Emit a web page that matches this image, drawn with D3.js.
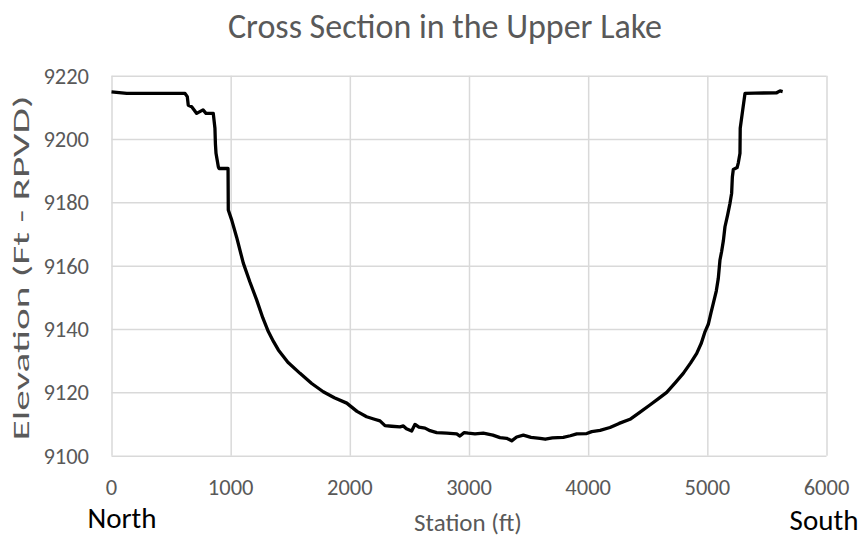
<!DOCTYPE html>
<html>
<head>
<meta charset="utf-8">
<script src="https://cdn.jsdelivr.net/npm/d3@7"></script>
<style>
body { margin: 0; background: #fff; }
svg text { font-family: Carlito, Calibri, Lato, sans-serif; }
.grid line { stroke: #d9d9d9; stroke-width: 1.5; }
.grid path { display: none; }
.tick-label { fill: #595959; font-size: 22.5px; }
</style>
</head>
<body>
<div id="chart"></div>
<script>
// station (ft) along the cross section, north to south
var station = [0, 128, 617, 636, 644, 673, 715, 768, 793, 854, 868, 872, 877, 896, 902, 978, 980,
	1009, 1050, 1106, 1160, 1218, 1270, 1316, 1360, 1400, 1480, 1582, 1680, 1777, 1870, 1974,
	2060, 2141, 2200, 2253, 2295, 2350, 2421, 2449, 2475, 2519, 2547, 2580, 2631, 2673, 2729,
	2813, 2897, 2924, 2960, 2994, 3050, 3120, 3200, 3260, 3316, 3358, 3400, 3456, 3520, 3596,
	3640, 3700, 3791, 3850, 3904, 3988, 4030, 4100, 4183, 4260, 4351, 4430, 4518, 4590, 4659,
	4730, 4798, 4860, 4911, 4950, 4981, 5008, 5030, 5050, 5075, 5092, 5106, 5120, 5135, 5148,
	5170, 5190, 5204, 5210, 5218, 5250, 5260, 5274, 5276, 5297, 5316, 5400, 5582, 5610, 5632];
// elevation (ft - RPVD)
var elevation = [9214.9, 9214.4, 9214.4, 9213.4, 9210.7, 9210.2, 9208.1, 9209.2, 9208.1, 9208.1, 9203.4, 9198.5, 9195.5, 9191.3, 9190.7, 9190.7, 9177.6,
	9174.4, 9169.0, 9160.8, 9155.0, 9149.2, 9143.5, 9139.2, 9136.0, 9133.4, 9129.5, 9126.0, 9122.8, 9120.2, 9118.3, 9116.6,
	9114.0, 9112.3, 9111.6, 9111.0, 9109.5, 9109.3, 9109.1, 9109.4, 9108.5, 9107.8, 9109.9, 9109.0, 9108.7, 9107.9, 9107.3,
	9107.1, 9106.9, 9106.2, 9107.3, 9107.1, 9106.9, 9107.1, 9106.5, 9105.7, 9105.5, 9104.7, 9105.9, 9106.5, 9105.8, 9105.5,
	9105.2, 9105.6, 9105.8, 9106.3, 9106.9, 9107.0, 9107.6, 9108.0, 9108.9, 9110.2, 9111.5, 9113.6, 9116.0, 9118.0, 9120.0,
	9123.0, 9126.0, 9129.3, 9132.3, 9135.6, 9139.2, 9141.5, 9145.0, 9148.1, 9152.0, 9156.0, 9161.8, 9164.5, 9168.0, 9172.3,
	9176.0, 9179.7, 9182.9, 9188.0, 9190.4, 9191.0, 9192.5, 9195.5, 9203.4, 9209.2, 9214.4, 9214.5, 9214.6, 9215.2, 9215.0];

var xTicks = [0, 1000, 2000, 3000, 4000, 5000, 6000];
var yTicks = [9100, 9120, 9140, 9160, 9180, 9200, 9220];

var width = 860, height = 543;
var plot = { left: 111.5, right: 826.5, top: 75.7, bottom: 455.7 };

var svg = d3.select("#chart")
	.append("svg")
	.attr("width", width)
	.attr("height", height);

var xScale = d3.scaleLinear()
	.domain([0, 6000])
	.range([plot.left, plot.right]);

var yScale = d3.scaleLinear()
	.domain([9100, 9220])
	.range([plot.bottom, plot.top]);

// gridlines
svg.append("g")
	.attr("class", "grid")
	.attr("transform", "translate(0," + plot.bottom + ")")
	.call(d3.axisBottom(xScale).tickValues(xTicks).tickFormat("").tickSize(-(plot.bottom - plot.top)));

svg.append("g")
	.attr("class", "grid")
	.attr("transform", "translate(" + plot.left + ",0)")
	.call(d3.axisLeft(yScale).tickValues(yTicks).tickFormat("").tickSize(-(plot.right - plot.left)));

// tick labels
svg.append("g")
	.selectAll("text")
	.data(xTicks)
	.enter()
	.append("text")
	.attr("class", "tick-label")
	.attr("x", function(d) { return xScale(d); })
	.attr("y", 495)
	.attr("text-anchor", "middle")
	.text(function(d) { return d; });

svg.append("g")
	.selectAll("text")
	.data(yTicks)
	.enter()
	.append("text")
	.attr("class", "tick-label")
	.attr("x", 89)
	.attr("y", function(d) { return yScale(d); })
	.attr("dy", "0.35em")
	.attr("text-anchor", "end")
	.text(function(d) { return d; });

// the cross section
var line = d3.line()
	.x(function(d, i) { return xScale(station[i]); })
	.y(function(d) { return yScale(d); });

svg.append("path")
	.datum(elevation)
	.attr("d", line)
	.attr("fill", "none")
	.attr("stroke", "#000")
	.attr("stroke-width", 3.3)
	.attr("stroke-linejoin", "round");

// titles
svg.append("text")
	.attr("x", 445)
	.attr("y", 38)
	.attr("text-anchor", "middle")
	.style("font-size", "34px")
	.style("fill", "#595959")
	.text("Cross Section in the Upper Lake");

svg.append("text")
	.attr("transform", "translate(29,268) rotate(-90)")
	.attr("text-anchor", "middle")
	.attr("textLength", 345)
	.attr("lengthAdjust", "spacingAndGlyphs")
	.style("font-size", "23px")
	.style("fill", "#595959")
	.text("Elevation (Ft - RPVD)");

svg.append("text")
	.attr("x", 468)
	.attr("y", 531)
	.attr("text-anchor", "middle")
	.style("font-size", "25px")
	.style("fill", "#595959")
	.text("Station (ft)");

svg.append("text")
	.attr("x", 122)
	.attr("y", 528)
	.attr("text-anchor", "middle")
	.style("font-size", "29px")
	.style("fill", "#000")
	.text("North");

svg.append("text")
	.attr("x", 824)
	.attr("y", 530)
	.attr("text-anchor", "middle")
	.style("font-size", "29px")
	.style("fill", "#000")
	.text("South");
</script>
</body>
</html>
